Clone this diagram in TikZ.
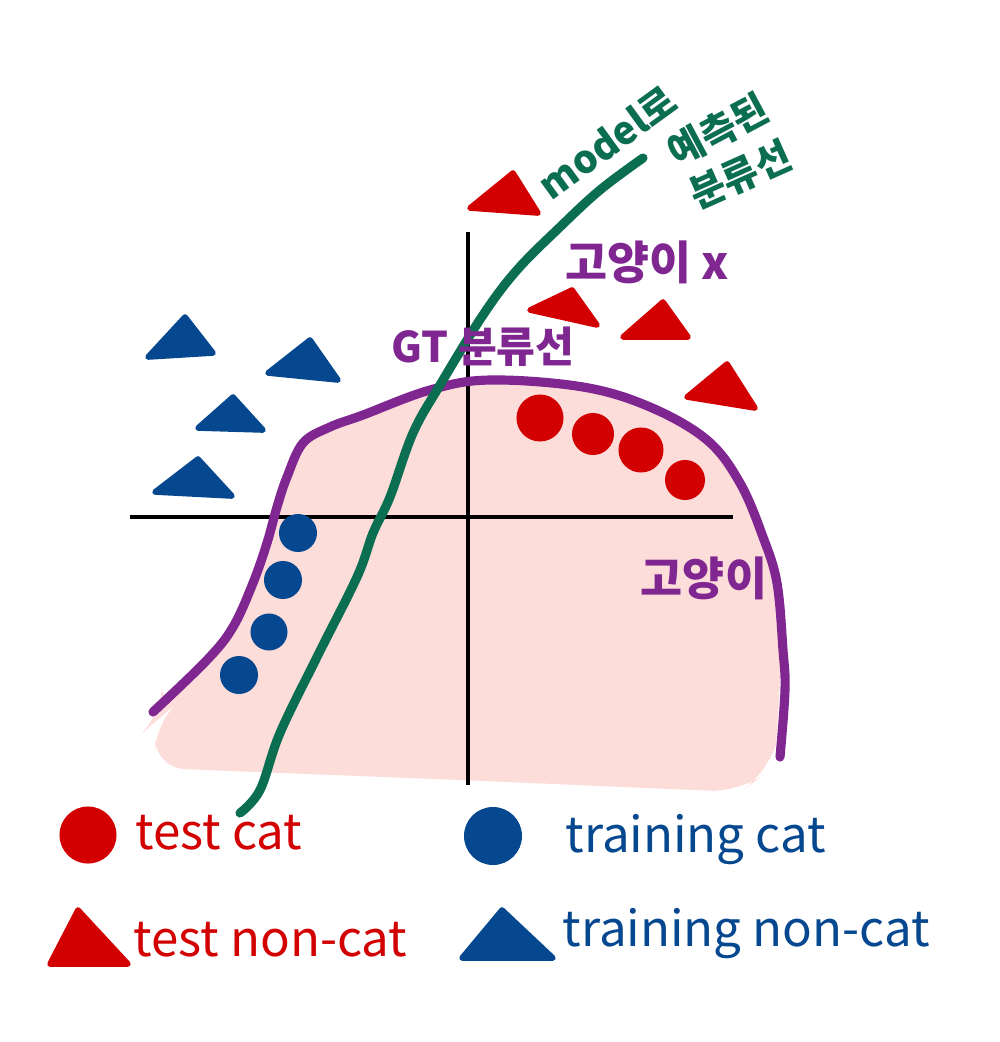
\documentclass[tikz,border=0pt]{standalone}
\usepackage{fontspec}
\setmainfont{Noto Sans CJK KR}
\usepackage{xcolor}
\usepackage{tikz}
\usetikzlibrary{positioning}
\definecolor{CatRed}{HTML}{D20000}
\definecolor{CatBlue}{HTML}{06488F}
\definecolor{GTPurple}{HTML}{7F2690}
\definecolor{ModelGreen}{HTML}{0B6E50}
\definecolor{CatPink}{HTML}{FDDDDA}

\begin{document}
\begin{tikzpicture}[x=0.01cm,y=-0.01cm,
  dot/.style={circle,inner sep=0pt,minimum size=0.42cm},
  tri/.style={line width=1.6pt,line join=round},
  legend/.style={anchor=west,inner sep=0pt,font=\fontsize{14}{16}\selectfont}]
  \useasboundingbox (0,0) rectangle (1000,1042);
  % cat region under the GT boundary
  \fill[CatPink] plot[smooth,tension=0.6] coordinates {(162,716) (207,665) (233,630)
      (253,585) (267,545) (287,479) (303,445) (330,429) (363,417) (430,392) (490,382)
      (583,389) (650,409) (707,442) (740,485) (763,539) (777,585) (781,650) (776,745)}
    [rounded corners=0.3cm] -- (768,772) -- (740,792) -- (460,780) -- (155,768) -- (155,722) -- cycle;
  % axes
  \draw[black,line width=1.2pt] (130,517) -- (733,517);
  \draw[black,line width=1.2pt] (468,232) -- (468,785);
  % GT boundary
  \draw[GTPurple,line width=2.6pt,line cap=round] plot[smooth,tension=0.6] coordinates {
      (153,712) (207,660) (233,627) (253,583) (267,543) (277,507) (287,477) (303,443)
      (330,427) (363,415) (430,390) (490,380) (583,387) (650,407) (707,440) (740,483)
      (763,537) (777,583) (783,650) (785,690) (780,757)};
  % model boundary
  \draw[ModelGreen,line width=2.6pt,line cap=round] plot[smooth,tension=0.6] coordinates {
      (240,813) (260,790) (280,733) (317,657) (357,577) (373,533) (390,497) (413,433)
      (440,385) (483,315) (517,270) (560,227) (600,190) (643,158)};
  % test non-cat
  \filldraw[CatRed,tri] (513,173) -- (538,213) -- (470,208) -- cycle;
  \filldraw[CatRed,tri] (572,290) -- (597,325) -- (530,310) -- cycle;
  \filldraw[CatRed,tri] (663,302) -- (688,337) -- (623,337) -- cycle;
  \filldraw[CatRed,tri] (727,364) -- (755,408) -- (687,397) -- cycle;
  % training non-cat
  \filldraw[CatBlue,tri] (185,317) -- (213,353) -- (148,357) -- cycle;
  \filldraw[CatBlue,tri] (310,340) -- (338,380) -- (268,373) -- cycle;
  \filldraw[CatBlue,tri] (233,397) -- (263,430) -- (198,428) -- cycle;
  \filldraw[CatBlue,tri] (198,459) -- (232,496) -- (155,492) -- cycle;
  % test cat
  \node[dot,fill=CatRed,minimum size=0.47cm] (tc1) at (540,418) {};
  \node[dot,fill=CatRed] (tc2) at (593,434) {};
  \node[dot,fill=CatRed,minimum size=0.45cm] (tc3) at (641,450) {};
  \node[dot,fill=CatRed,minimum size=0.4cm] (tc4) at (685,480) {};
  % training cat
  \node[dot,fill=CatBlue,minimum size=0.38cm] (rc1) at (298,533) {};
  \node[dot,fill=CatBlue,minimum size=0.38cm] (rc2) at (283,580) {};
  \node[dot,fill=CatBlue,minimum size=0.37cm] (rc3) at (269,632) {};
  \node[dot,fill=CatBlue,minimum size=0.38cm] (rc4) at (239,675) {};
  % labels
  \node[ModelGreen,rotate=36,inner sep=1pt,font=\fontsize{11}{13}\selectfont\bfseries] (mlab) at (607,142) {model로};
  \node[ModelGreen,rotate=28,inner sep=1pt,font=\fontsize{11}{13}\selectfont\bfseries] (mlab2) at (718,130) {예측된};
  \node[ModelGreen,rotate=24,inner sep=1pt,font=\fontsize{11}{13}\selectfont\bfseries] (mlab3) at (740,175) {분류선};
  \node[GTPurple,font=\fontsize{13}{15}\selectfont\bfseries] (notcat) at (647,262) {고양이 x};
  \node[GTPurple,font=\fontsize{12}{14}\selectfont\bfseries] (gtlab) at (483,347) {GT 분류선};
  \node[GTPurple,font=\fontsize{13}{15}\selectfont\bfseries] (catlab) at (704,578) {고양이};
  % legend
  \node[dot,fill=CatRed,minimum size=0.57cm] (ktc) at (88,835) {};
  \node[legend,CatRed] (ktct) at (135,833) {test cat};
  \node[dot,fill=CatBlue,minimum size=0.58cm] (krc) at (493,836) {};
  \node[legend,CatBlue] (krct) at (565,840) {training cat};
  \filldraw[CatRed,tri] (78,910) -- (128,964) -- (50,964) -- cycle;
  \node[legend,CatRed] (ktnt) at (133,940) {test non-cat};
  \filldraw[CatBlue,tri] (502,910) -- (553,958) -- (462,958) -- cycle;
  \node[legend,CatBlue] (krnt) at (562,934) {training non-cat};
\end{tikzpicture}
\end{document}
